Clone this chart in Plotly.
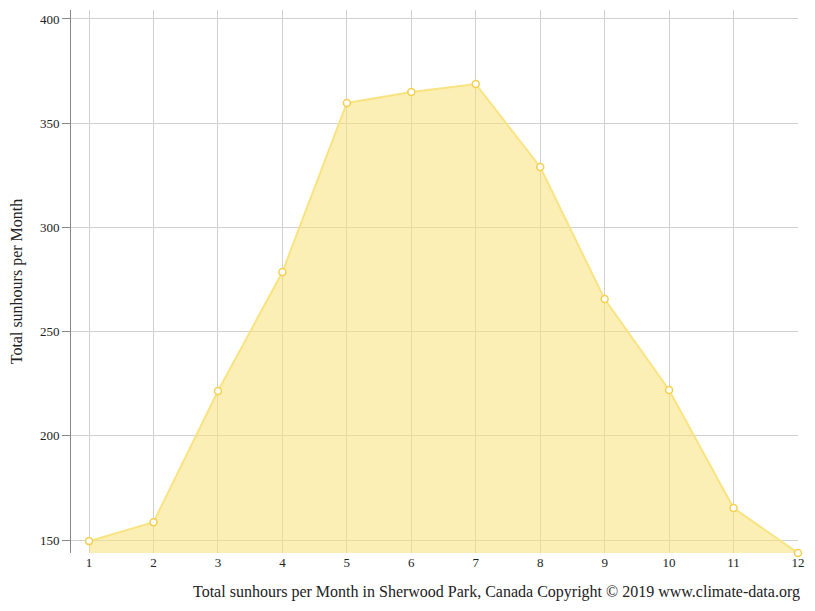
import plotly.graph_objects as go

months = [1,2,3,4,5,6,7,8,9,10,11,12]
sunhours = [149.5,158.6,221.5,278.6,359.7,365,368.8,329,265.6,222,165.4,143.8]

fig = go.Figure(go.Scatter(
    x=months, y=sunhours, mode="lines+markers", fill="tozeroy",
    line=dict(color="rgba(248,225,120,0.9)", width=2),
    fillcolor="rgba(248,226,120,0.55)",
    marker=dict(size=7, color="white", line=dict(color="#f3d04f", width=1.5)),
    cliponaxis=False,
))
fig.update_layout(
    width=807, height=603, plot_bgcolor="white", paper_bgcolor="white",
    margin=dict(l=63, r=17, t=2, b=58), showlegend=False,
    font=dict(family="Liberation Serif", size=13, color="#222"),
    xaxis=dict(range=[0.72, 12], tickvals=months, showgrid=True, gridcolor="#d0d0d0",
               showline=False, ticks="", zeroline=False),
    yaxis=dict(range=[143.8, 404.3], tickvals=[150,200,250,300,350,400], showgrid=True,
               gridcolor="#d0d0d0", showline=True, linecolor="#888", ticks="outside",
               ticklen=8, tickcolor="#888", zeroline=False,
               title=dict(text="Total sunhours per Month", font=dict(size=16))),
)
fig.add_annotation(text="Total sunhours per Month in Sherwood Park, Canada Copyright © 2019 www.climate-data.org",
                   xref="paper", yref="paper", x=1.0055, y=-0.072, xanchor="right", yanchor="middle",
                   showarrow=False, font=dict(size=16))
fig.write_html("out.html")
